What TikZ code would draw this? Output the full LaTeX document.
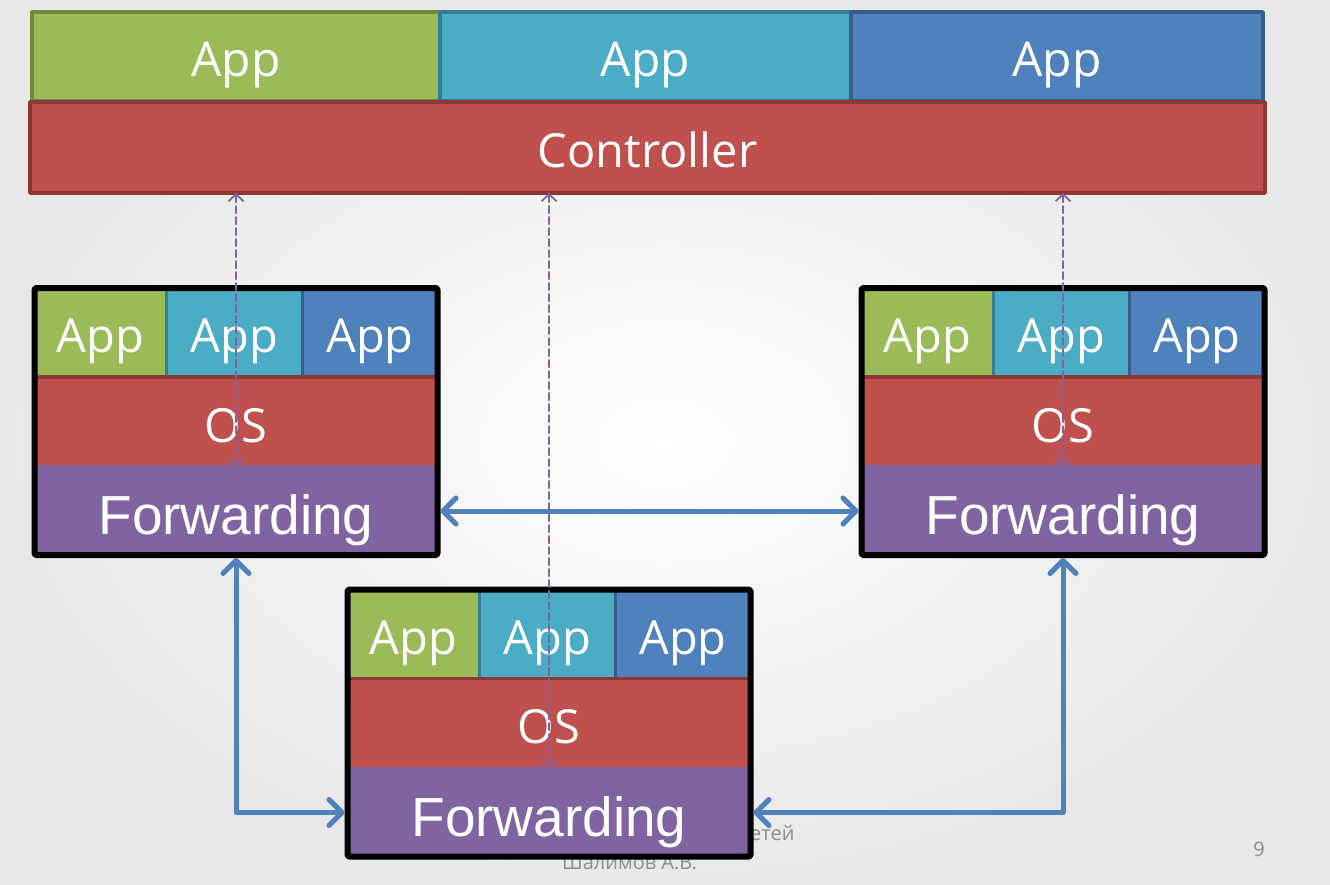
\documentclass[tikz,border=0pt]{standalone}
\usepackage{fontspec}
\setmainfont{Open Sans}
\newfontfamily\fwdfont{Liberation Sans}
\usetikzlibrary{arrows.meta}

\definecolor{appgreen}{HTML}{9BBB59}
\definecolor{appgreenD}{HTML}{71893F}
\definecolor{appteal}{HTML}{4BACC6}
\definecolor{apptealD}{HTML}{357D91}
\definecolor{appblue}{HTML}{4F81BD}
\definecolor{appblueD}{HTML}{385D8A}
\definecolor{osred}{HTML}{C0504D}
\definecolor{osredD}{HTML}{8C3836}
\definecolor{fwdpurple}{HTML}{8064A2}
\definecolor{footgray}{HTML}{8C8C8C}

\tikzset{
	tile/.style={anchor=north west, inner sep=0pt, outer sep=0pt, line width=3.5pt,
		text=white, text height=40pt, text depth=0pt, font=\fontsize{47}{56}\selectfont},
	fwd/.style={tile, fill=fwdpurple, draw=fwdpurple, text height=47pt,
		font=\fwdfont\fontsize{55}{64}\selectfont},
	frame/.style={anchor=north west, draw=black, line width=6pt, rounded corners=1.5pt,
		inner sep=0pt, minimum width=403pt, minimum height=267pt},
	link/.style={draw=appblue, line width=5pt, line cap=round, line join=round,
		arrows={Straight Barb[length=13pt,width=26pt,round]-Straight Barb[length=13pt,width=26pt,round]}},
	ctl/.style={draw=fwdpurple, line width=1.8pt, dash pattern=on 7pt off 4pt,
		arrows={Straight Barb[length=7pt,width=15pt]-Straight Barb[length=7pt,width=15pt]}},
	foot/.style={inner sep=0pt, text=footgray, font=\fontsize{20}{24}\selectfont}
}

% #1 name, #2 x, #3 y of the frame corner
\newcommand\switchbox[3]{
	\node[tile, fill=appgreen, draw=appgreenD, minimum width=132pt, minimum height=89pt] (#1a) at (#2,#3) {App};
	\node[tile, fill=appteal, draw=apptealD, minimum width=136pt, minimum height=89pt] (#1b) at (#1a.north east) {App};
	\node[tile, fill=appblue, draw=appblueD, minimum width=135pt, minimum height=89pt] (#1c) at (#1b.north east) {App};
	\node[tile, fill=osred, draw=osredD, minimum width=403pt, minimum height=90pt] (#1o) at (#1a.south west) {OS};
	\node[fwd, minimum width=403pt, minimum height=88pt] (#1f) at (#1o.south west) {Forwarding};
	\node[frame] (#1) at ({#2-3},{#3-3}) {};
}

\begin{document}
\begin{tikzpicture}[x=1pt, y=-1pt, line cap=round, line join=round]
	\useasboundingbox (0,0) rectangle (1330,884);
	\shade[inner color=white, outer color=black!9] (0,0) rectangle (1330,884);

	\node[foot, anchor=base west] (lect) at (750,840) {етей};
	\node[foot, anchor=base west] (auth) at (562,869) {Шалимов А.В.};
	\node[foot, anchor=base east] (page) at (1265,856) {9};

	\node[tile, fill=appgreen, draw=appgreenD, minimum width=408pt, minimum height=89pt,
		font=\fontsize{48}{56}\selectfont] (topa) at (32,12) {App};
	\node[tile, fill=appteal, draw=apptealD, minimum width=411pt, minimum height=89pt,
		font=\fontsize{48}{56}\selectfont] (topb) at (topa.north east) {App};
	\node[tile, fill=appblue, draw=appblueD, minimum width=412pt, minimum height=89pt,
		font=\fontsize{48}{56}\selectfont] (topc) at (topb.north east) {App};
	\node[tile, fill=osred, draw=osredD, minimum width=1235pt, minimum height=91pt] (ctrl) at (30,102) {Controller};

	\switchbox{l}{34.5}{288}
	\switchbox{r}{861.5}{288}
	\switchbox{b}{347.5}{589.5}

	\draw[link] (l.east |- lf) -- (r.west |- rf);
	\draw[link] (l.south) |- (b.west |- bf);
	\draw[link] (b.east |- bf) -| (r.south);

	\draw[ctl] (ctrl.south -| lo.south) -- (lo.south);
	\draw[ctl] (ctrl.south -| bo.south) -- (bo.south);
	\draw[ctl] (ctrl.south -| ro.south) -- (ro.south);
\end{tikzpicture}
\end{document}
